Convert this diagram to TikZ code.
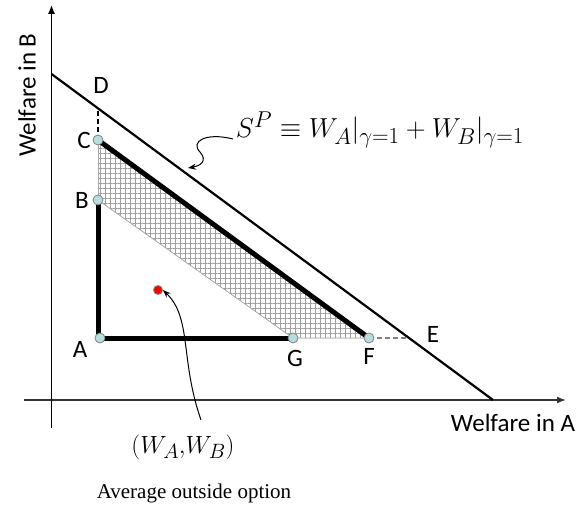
\documentclass[tikz,border=0pt]{standalone}
\usepackage{fontspec}
\setsansfont{Carlito}
\newfontfamily\serifTNR{Liberation Serif}
\usetikzlibrary{arrows.meta,patterns.meta}
\definecolor{dotfill}{RGB}{183,221,224}
\definecolor{axisgray}{RGB}{110,110,110}
\tikzset{
  pt/.style={circle,draw=gray,fill=dotfill,line width=0.8pt,inner sep=0pt,minimum size=10pt},
  lbl/.style={font=\sffamily\fontsize{25}{27}\selectfont,inner sep=0pt},
  axisline/.style={draw=axisgray,line width=1.4pt},
  thickline/.style={line width=5pt,line cap=round},
}
\begin{document}
\begin{tikzpicture}[x=1pt,y=-1pt]
\useasboundingbox (0,0) rectangle (579,508);
% axes
\coordinate (xl) at (24,400);
\coordinate (xr) at (566,400);
\coordinate (yb) at (51.5,428);
\coordinate (yt) at (51.5,5);
\draw[axisline,-{Latex[length=9pt,width=7pt]},draw=black!80] (xl) -- (xr);
\draw[line width=1.2pt,-{Latex[length=9pt,width=7pt]}] (yb) -- (yt);
% Sp line
\coordinate (s1) at (51.5,74);
\coordinate (s2) at (493,400);
\draw[line width=2.2pt] (s1) -- (s2);
% points
\coordinate (Ap) at (100,338);
\coordinate (Gp) at (293,338);
\coordinate (Fp) at (369,338);
\coordinate (Bp) at (98,200);
\coordinate (Cp) at (98,140);
\coordinate (Dp) at (98,109);
\coordinate (Ep) at (407,338);
% hatched region
\fill[pattern={Hatch[angle=0,distance=5pt,line width=0.6pt]},pattern color=gray!75] (Bp) -- (Cp) -- (Fp) -- (Gp) -- cycle;
\draw[gray!70,line width=0.8pt] (Bp) -- (Gp) -- (Fp);
\draw[gray!70,line width=0.8pt] (Bp) -- (Cp);
% dashed
\draw[line width=1.2pt,dash pattern=on 5pt off 3pt] (Cp) -- (Dp);
\draw[gray,line width=1.2pt,dash pattern=on 5pt off 3pt] (Fp) -- (Ep);
% thick lines
\draw[thickline,line cap=butt] (Bp) -- (98,338) -- (Gp);
\draw[thickline,line cap=butt] (Cp) -- (Fp);
% dots
\node[pt] (A) at (Ap) {};
\node[pt] (G) at (Gp) {};
\node[pt] (F) at (Fp) {};
\node[pt] (B) at (Bp) {};
\node[pt] (C) at (Cp) {};
% labels
\node[lbl] (lD) at (101,85) {D};
\node[lbl] (lC) at (84,140) {C};
\node[lbl] (lB) at (82,200) {B};
\node[lbl] (lA) at (80,349) {A};
\node[lbl] (lG) at (295,358) {G};
\node[lbl] (lF) at (369,356) {F};
\node[lbl] (lE) at (433,334) {E};
\node[lbl] (wa) at (513,423) {Welfare in A};
\node[lbl,rotate=90] (wb) at (27,95) {Welfare in B};
% red dot
\node[circle,draw=gray,fill=red,line width=0.8pt,inner sep=0pt,minimum size=9pt] (R) at (158,290) {};
% math labels
\node[inner sep=0pt,font=\fontsize{24.88}{30}\selectfont] (SP) at (380,130)
  {\scalebox{1.105}{$S^P \equiv W_A|_{\gamma=1} + W_B|_{\gamma=1}$}};
\node[inner sep=0pt,font=\fontsize{24.88}{28}\selectfont] (WW) at (183,447) {$(W_A{,}W_B)$};
\node[inner sep=0pt,font=\serifTNR\fontsize{21}{24}\selectfont] (AO) at (194,493) {Average outside option};
% arrows
\coordinate (a1) at (233,139);
\coordinate (a2) at (188,168);
\draw[line width=1pt,-{Stealth[length=8pt,width=6pt]}] (a1) .. controls (205,132) and (190,142) .. (200,152) .. controls (208,161) and (200,166) .. (a2);
\coordinate (b1) at (201,420);
\draw[line width=1pt,-{Stealth[length=8pt,width=6pt]}] (b1) .. controls (180,360) and (192,318) .. (R.east);
\end{tikzpicture}
\end{document}
